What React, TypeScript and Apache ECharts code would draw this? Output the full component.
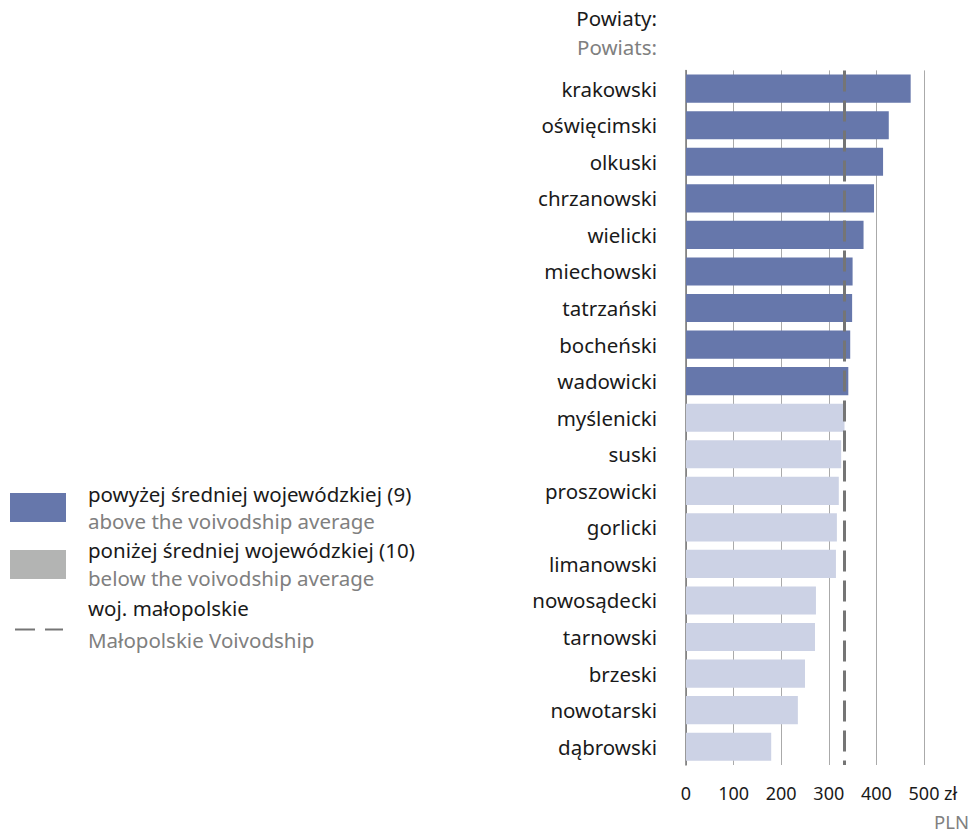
import React, { useEffect, useRef } from "react";
import * as echarts from "echarts";

const categories = [
  "krakowski", "oświęcimski", "olkuski", "chrzanowski", "wielicki", "miechowski",
  "tatrzański", "bocheński", "wadowicki", "myślenicki", "suski", "proszowicki",
  "gorlicki", "limanowski", "nowosądecki", "tarnowski", "brzeski", "nowotarski", "dąbrowski",
];
const values = [472, 426, 414, 395, 373, 350, 349, 345, 341, 333, 326, 321, 317, 315, 273, 271, 250, 235, 179];
const voivodshipAverage = 333.5;
const xTicks = [0, 100, 200, 300, 400, 500];
const legendMain = ["powyżej średniej wojewódzkiej (9)", "poniżej średniej wojewódzkiej (10)", "woj. małopolskie"];
const legendSub = ["above the voivodship average", "below the voivodship average", "Małopolskie Voivodship"];

const FONT = "'Noto Sans', Roboto, sans-serif";
const ABOVE = "#6677ab";
const BELOW = "#ccd2e5";
const LEG_BELOW = "#b3b4b3";
const DARK = "#1a1a1a";
const GRAY = "#808080";
const FS = 20.5;

export default function App() {
  const ref = useRef<HTMLDivElement>(null);
  useEffect(() => {
    document.body.style.margin = "0";
    if (!ref.current) return;
    const chart = echarts.init(ref.current, null, { renderer: "svg" });
    const data = values.map((v) => ({
      value: v,
      itemStyle: { color: v > voivodshipAverage ? ABOVE : BELOW },
    }));
    const mainY = [494, 550, 608];
    const subY = [521, 578, 640];
    const txt = (text: string, x: number, y: number, fill: string, align = "left", size = FS) => ({
      type: "text",
      x,
      y,
      style: { text, font: `${size}px ${FONT}`, fill, align, verticalAlign: "middle" },
    });
    const graphics: any[] = [
      txt("Powiaty:", 657, 18, DARK, "right"),
      txt("Powiats:", 657, 47, GRAY, "right"),
      txt("zł", 944, 793, DARK, "left", 18),
      txt("PLN", 969, 821, GRAY, "right", 18.5),
      { type: "rect", shape: { x: 10, y: 493, width: 56, height: 29 }, style: { fill: ABOVE } },
      { type: "rect", shape: { x: 10, y: 550, width: 56, height: 29 }, style: { fill: LEG_BELOW } },
      { type: "line", shape: { x1: 15, y1: 629.5, x2: 35, y2: 629.5 }, style: { stroke: "#757575", lineWidth: 2 } },
      { type: "line", shape: { x1: 45, y1: 629.5, x2: 63, y2: 629.5 }, style: { stroke: "#757575", lineWidth: 2 } },
    ];
    legendMain.forEach((t, i) => {
      graphics.push(txt(t, 88, mainY[i], DARK));
      graphics.push(txt(legendSub[i], 88, subY[i], GRAY));
    });
    chart.setOption({
      animation: false,
      grid: { left: 686, right: 50, top: 70.4, height: 694.6, containLabel: false },
      xAxis: {
        type: "value",
        min: 0,
        max: 500,
        interval: 100,
        axisLine: { show: false },
        axisTick: { show: false },
        splitLine: { show: true, lineStyle: { color: "#aaaaaa", width: 1 } },
        axisLabel: {
          fontFamily: FONT,
          fontSize: 18,
          color: DARK,
          margin: 19,
          formatter: (v: number) => (xTicks.includes(v) ? String(v) : ""),
        },
      },
      yAxis: {
        type: "category",
        data: categories,
        inverse: true,
        axisLine: { show: true, lineStyle: { color: "#777777", width: 1.5 } },
        axisTick: { show: false },
        axisLabel: { fontFamily: FONT, fontSize: FS, color: DARK, margin: 29 },
      },
      series: [
        {
          type: "bar",
          data,
          barCategoryGap: "23%",
          markLine: {
            silent: true,
            symbol: "none",
            label: { show: false },
            lineStyle: { color: "#757575", width: 3, type: [21, 9] },
            data: [{ xAxis: voivodshipAverage }],
          },
        },
      ],
      graphic: graphics,
    });
    return () => chart.dispose();
  }, []);
  return <div ref={ref} style={{ width: 974, height: 832 }} />;
}
